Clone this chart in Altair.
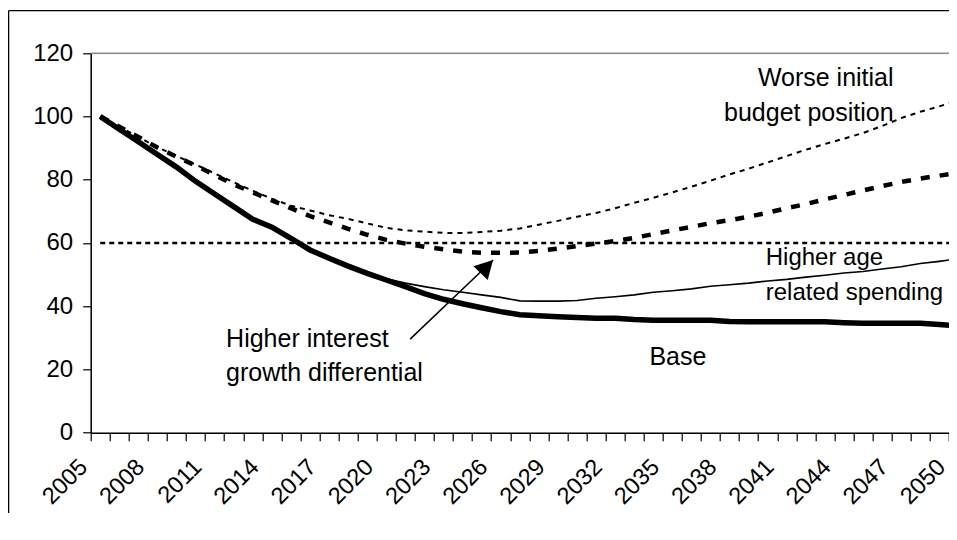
import altair as alt
import pandas as pd

# ---------------- data ----------------
years = list(range(2005, 2051))

base = [100, 96, 92, 88, 84, 79.5, 75.5, 71.5, 67.5, 65,
        61.5, 57.8, 55.2, 52.7, 50.4, 48.3, 46.2, 44, 42.2, 40.8,
        39.5, 38.3, 37.3, 37, 36.7, 36.4, 36.2, 36.2, 35.8, 35.6,
        35.6, 35.6, 35.6, 35.2, 35.1, 35.1, 35.1, 35.1, 35.1, 34.8,
        34.6, 34.6, 34.6, 34.6, 34.2, 33.8]

higher_age = [100, 96, 92, 88, 84, 79.5, 75.5, 71.5, 67.5, 65,
              61.5, 57.8, 55.2, 52.7, 50.5, 48.7, 47.3, 46.2, 45.2, 44.4,
              43.6, 42.8, 41.7, 41.6, 41.6, 41.8, 42.5, 43, 43.6, 44.4,
              44.9, 45.5, 46.3, 46.8, 47.3, 48, 48.5, 49.2, 49.8, 50.5,
              51, 51.8, 52.5, 53.5, 54.2, 55]

higher_interest = [100, 96.8, 93.5, 90.2, 87.3, 84.5, 81.5, 78.5, 76, 73.5,
                   71, 68.5, 66.5, 64.5, 62.6, 61, 59.8, 58.8, 58, 57.3,
                   56.9, 56.9, 57, 57.5, 58.2, 59, 59.8, 60.6, 61.6, 62.8,
                   64, 65.1, 66.3, 67.2, 68.3, 69.6, 71, 72.3, 73.8, 75.2,
                   76.6, 78, 79.3, 80.4, 81.3, 82.2]

worse_initial = [100, 96.8, 93.5, 90.3, 87.5, 84.8, 82, 79.2, 76.5, 74,
                 71.8, 70.3, 68.8, 67.6, 66.2, 64.8, 64, 63.6, 63.2, 63.2,
                 63.5, 63.9, 64.6, 65.8, 67, 68.3, 69.5, 71, 72.7, 74.3,
                 76, 77.8, 79.7, 81.7, 83.5, 85.5, 87.5, 89.5, 91.3, 93,
                 94.8, 97, 99.5, 101.5, 103.2, 105.2]

reference_level = [60]
reference_span = [2005, 2050]

y_ticks = [0, 20, 40, 60, 80, 100, 120]
# category boundaries (ticks sit between the yearly categories)
x_boundaries = [y - 0.5 for y in years]

ann_text = ["Worse initial\nbudget position", "Higher age\nrelated spending",
            "Higher interest\ngrowth differential", "Base"]
ann_year = [2046.6, 2039.9, 2011.6, 2033.8]
ann_value = [109.6, 53.0, 27.2, 21.4]
ann_align = ["right", "left", "left", "left"]
ann_size = [25, 24, 25, 25]

arrow_from = (2021.25, 29.6)
arrow_to = (2025.6, 54.6)

# ---------------- layout ----------------
FONT = "Liberation Sans"
PX_PER_YEAR = 19.07
PAD_LEFT = 82.7
PAD_TOP = 45.3
PLOT_W = 941 - PAD_LEFT
PLOT_H = 379.4
X_DOMAIN = [2004.5, 2004.5 + PLOT_W / PX_PER_YEAR]

df = pd.DataFrame({
    "year": years,
    "base": base,
    "higher_age": higher_age,
    "higher_interest": higher_interest,
    "worse_initial": worse_initial,
})

x_scale = alt.Scale(domain=X_DOMAIN, nice=False, zero=False)
y_scale = alt.Scale(domain=[0, 120], nice=False)

x_axis = alt.Axis(
    values=x_boundaries, title=None, grid=False,
    labelExpr="(datum.value + 0.5) % 3 == 1 ? format(datum.value + 0.5, 'd') : ''",
    labelAngle=-45, labelAlign="right", labelOffset=-16,
    labelBaseline="top", labelPadding=14, labelFontSize=23.5, labelFont=FONT,
    labelColor="black", labelOverlap=False, labelFlush=False,
    tickSize=8, tickColor="black", tickWidth=1.2,
    domainColor="black", domainWidth=1.5,
)
y_axis = alt.Axis(
    values=y_ticks, title=None, grid=False, labelPadding=10,
    labelFontSize=24, labelFont=FONT, labelColor="black",
    tickSize=8, tickColor="black", tickWidth=1.2,
    domainColor="black", domainWidth=1.5,
)


def X(field, **kw):
    return alt.X(field, type="quantitative", scale=x_scale, axis=x_axis, **kw)


def Y(field, **kw):
    return alt.Y(field, type="quantitative", scale=y_scale, axis=y_axis, **kw)


top_border = alt.Chart(pd.DataFrame({"v": [120]})).mark_rule(
    color="#8c8c8c", strokeWidth=1.5).encode(y=Y("v"))

ref_df = pd.DataFrame({"x": [reference_span[0]], "x2": [reference_span[1]],
                       "y": reference_level})
ref_line = alt.Chart(ref_df).mark_rule(
    color="black", strokeWidth=2.5, strokeDash=[5, 4], clip=True
).encode(x=X("x"), x2="x2:Q", y=Y("y"))

worse_line = alt.Chart(df).mark_line(
    color="black", strokeWidth=2, strokeDash=[5, 5], clip=True
).encode(x=X("year"), y=Y("worse_initial"))

interest_line = alt.Chart(df).mark_line(
    color="black", strokeWidth=4.5, strokeDash=[9, 10], clip=True
).encode(x=X("year"), y=Y("higher_interest"))

age_line = alt.Chart(df).mark_line(
    color="black", strokeWidth=1.6, clip=True
).encode(x=X("year"), y=Y("higher_age"))

base_line = alt.Chart(df).mark_line(
    color="black", strokeWidth=5.5, clip=True
).encode(x=X("year"), y=Y("base"))

ann_df = pd.DataFrame({"t": ann_text, "x": ann_year, "y": ann_value,
                       "a": ann_align, "s": ann_size})
ann_layers = []
for align in ["right", "left"]:
    ann_layers.append(
        alt.Chart(ann_df[ann_df["a"] == align]).mark_text(
            align=align, baseline="alphabetic", font=FONT,
            lineBreak="\n", lineHeight=34.5, color="black"
        ).encode(x=X("x"), y=Y("y"), text="t:N",
                 size=alt.Size("s:Q", scale=None, legend=None))
    )

arrow_df = pd.DataFrame({"x": [arrow_from[0]], "y": [arrow_from[1]],
                         "x2": [arrow_to[0]], "y2": [arrow_to[1]]})
arrow_shaft = alt.Chart(arrow_df).mark_rule(
    color="black", strokeWidth=1.5
).encode(x=X("x"), y=Y("y"), x2="x2:Q", y2="y2:Q")
arrow_head = alt.Chart(arrow_df).mark_point(
    shape="M0,0L-0.55,1L0.55,1Z", size=1296, angle=44, filled=True,
    color="black", opacity=1, strokeWidth=0
).encode(x=X("x2"), y=Y("y2"))

frame_df = pd.DataFrame({"d": [0]})
frame_left = alt.Chart(frame_df).mark_rule(color="black", strokeWidth=1.3).encode(
    x=alt.value(-PAD_LEFT + 0.6), y=alt.value(-42.6), y2=alt.value(600))
frame_top = alt.Chart(frame_df).mark_rule(color="black", strokeWidth=1.3).encode(
    x=alt.value(-PAD_LEFT + 0.6), x2=alt.value(PLOT_W + 20), y=alt.value(-42.6))

chart = alt.layer(
    top_border, ref_line, worse_line, interest_line, age_line, base_line,
    *ann_layers, arrow_shaft, arrow_head, frame_left, frame_top,
).properties(
    width=PLOT_W, height=PLOT_H,
    autosize=alt.AutoSizeParams(type="none"),
    padding={"left": PAD_LEFT, "top": PAD_TOP, "right": 0, "bottom": 80},
    background="white",
).configure_view(stroke=None).configure(font=FONT)

chart.save("out.html", embed_options={"renderer": "svg", "actions": False})
